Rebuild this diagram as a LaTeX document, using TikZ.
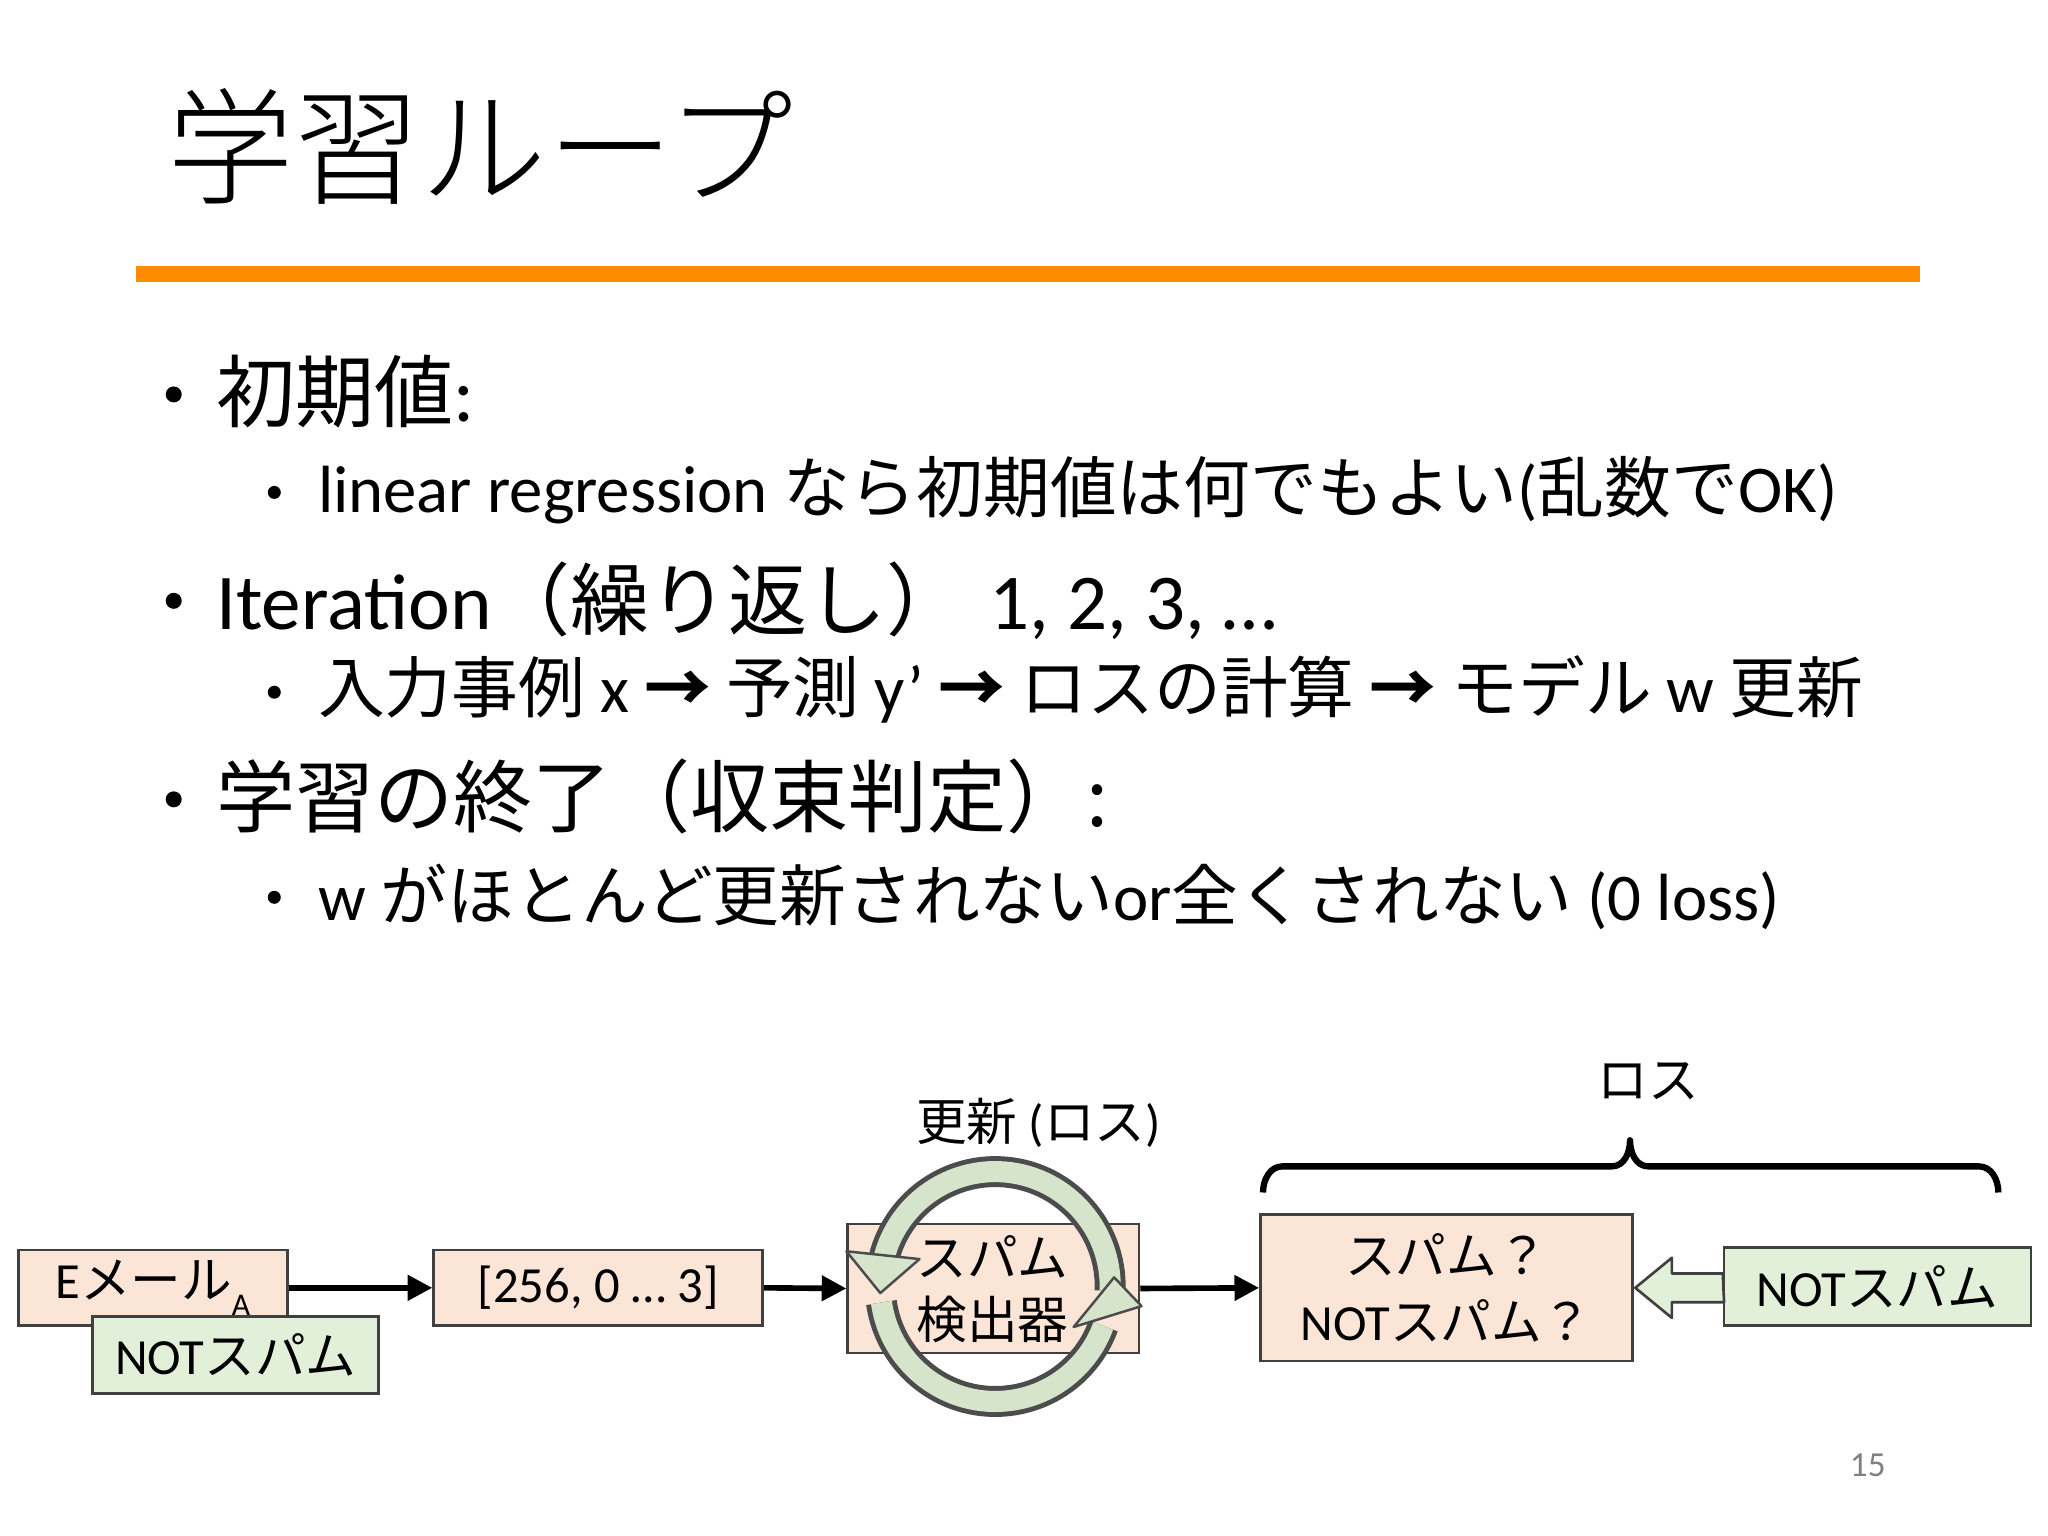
\documentclass[tikz,border=0pt]{standalone}
\usepackage{fontspec}
\setmainfont{Carlito}
\newfontfamily\jp{Noto Sans CJK JP}
\newfontfamily\jpl{Noto Sans CJK JP Light}
\usetikzlibrary{arrows.meta}
\definecolor{peach}{HTML}{FBE5D6}
\definecolor{lgreen}{HTML}{E2F0D9}
\definecolor{cgreen}{HTML}{D5E4CB}
\definecolor{orng}{HTML}{FF8C00}
\tikzset{
  t/.style={anchor=west,inner sep=0pt},
  bx/.style={draw=black!75,line width=0.75pt,inner sep=0pt},
  dt/.style={font=\fontsize{14.4}{17}\selectfont},
  conn/.style={line width=1.6pt,-{Triangle[length=7pt,width=7pt]}},
  ring/.style={line width=1.4pt,double=cgreen,double distance=6pt,black!70},
  rhead/.style={fill=cgreen,draw=black!70,line width=0.7pt,line join=round},
  dotb/.style={fill=black,circle,inner sep=0pt,minimum size=0.16cm},
  dots/.style={fill=black,circle,inner sep=0pt,minimum size=0.13cm},
}
\begin{document}
\begin{tikzpicture}[x=0.013061cm,y=-0.013061cm]
\useasboundingbox (0,0) rectangle (1568,1176);
\fill[white] (0,0) rectangle (1568,1176);
% title
\node[t] (title) at (128,112) {\jpl\fontsize{36}{40}\selectfont 学習ループ};
\fill[orng] (104,204) rectangle (1470,216);
% bullets
\node[dotb] (d1) at (133,302) {};
\node[t] (b1) at (165,300) {\fontsize{22.5}{26}\selectfont {\jp 初期値}:};
\node[dots] (d2) at (210,377) {};
\node[t] (s1) at (243,375) {\fontsize{19}{22}\selectfont linear regression {\jp なら初期値は何でもよい}({\jp 乱数で}OK)};
\node[dotb] (d3) at (133,460) {};
\node[t] (b2) at (165,460) {\fontsize{22.5}{26}\selectfont Iteration{\jp （繰り返し）}\hspace{0.3em}1, 2, 3, …};
\node[dots] (d4) at (210,530) {};
\node[t] (s2) at (243,528) {\fontsize{19}{22}\selectfont {\jp 入力事例} x {\jp\bfseries →} {\jp 予測} y’ {\jp\bfseries →} {\jp ロスの計算} {\jp\bfseries →} {\jp モデル} w {\jp 更新}};
\node[dotb] (d5) at (133,612) {};
\node[t] (b3) at (165,610) {\fontsize{22.5}{26}\selectfont {\jp 学習の終了（収束判定）:}};
\node[dots] (d6) at (210,687) {};
\node[t] (s3) at (243,687) {\fontsize{19}{22}\selectfont w {\jp がほとんど更新されない}or{\jp 全くされない} (0 loss)};
% diagram boxes
\node[bx,fill=peach,dt,minimum width=206*0.013061cm,minimum height=58*0.013061cm] (email) at (117,986) {E{\jp メール}\raisebox{-0.7ex}{\small A}\hspace{1.2em}};
\node[bx,fill=lgreen,dt,minimum width=219*0.013061cm,minimum height=59*0.013061cm] (not1) at (180.5,1037.5) {NOT{\jp スパム}};
\node[bx,fill=peach,dt,minimum width=252*0.013061cm,minimum height=58*0.013061cm] (vec) at (458,986) {[256, 0 … 3]};
\node[bx,fill=peach,minimum width=223*0.013061cm,minimum height=99*0.013061cm] (det) at (760.5,986.5) {};
\node[bx,fill=peach,dt,minimum width=285*0.013061cm,minimum height=112*0.013061cm,align=center] (out) at (1107.5,986) {{\jp スパム？}\\[2pt]NOT{\jp スパム？}};
\node[bx,fill=lgreen,dt,minimum width=235*0.013061cm,minimum height=60*0.013061cm] (not2) at (1437.5,985) {NOT{\jp スパム}};
% connectors
\draw[conn] (email.east) -- (vec.west);
\draw[conn] (vec.east) -- (det.west);
\draw[conn] (det.east) -- (out.west);
% block arrow not2 -> out
\draw[fill=lgreen,draw=black!75,line width=0.75pt,line join=round] (not2.west) ++(0,-10) -- (1280,975) -- (1280,963) -- (1252,986) -- (1280,1009) -- (1280,997) -- (1320,997) -- cycle;
% circular arrows
\coordinate (cc) at (762,985);
\draw[ring] (cc) ++(2:88) arc[start angle=2,end angle=-165,radius=88];
\draw[rhead] (648,958) -- (704,964) -- (674,990) -- cycle;
\draw[ring] (cc) ++(172:88) arc[start angle=172,end angle=20,radius=88];
\draw[rhead] (822,1016) -- (874,1000) -- (853,978) -- cycle;
\node[dt,inner sep=0pt] (dlab) at (760,962) {\jp スパム};
\node[dt,inner sep=0pt] (dlab2) at (760,1010) {\jp 検出器};
% brace
\draw[line width=1.8pt,line join=round] (967,913) to[out=90,in=180] (982,893) -- (1234,893) to[out=0,in=-90] (1248,873) to[out=-90,in=180] (1262,893) -- (1515,893) to[out=0,in=90] (1530,913);
\node[dt,inner sep=0pt] (loss) at (1262,828) {\jp ロス};
\node[dt,inner sep=0pt] (upd) at (795,860) {{\jp 更新} ({\jp ロス})};
\node[inner sep=0pt,text=black!50,font=\fontsize{10}{12}\selectfont] (pg) at (1430,1122) {15};
\end{tikzpicture}
\end{document}
